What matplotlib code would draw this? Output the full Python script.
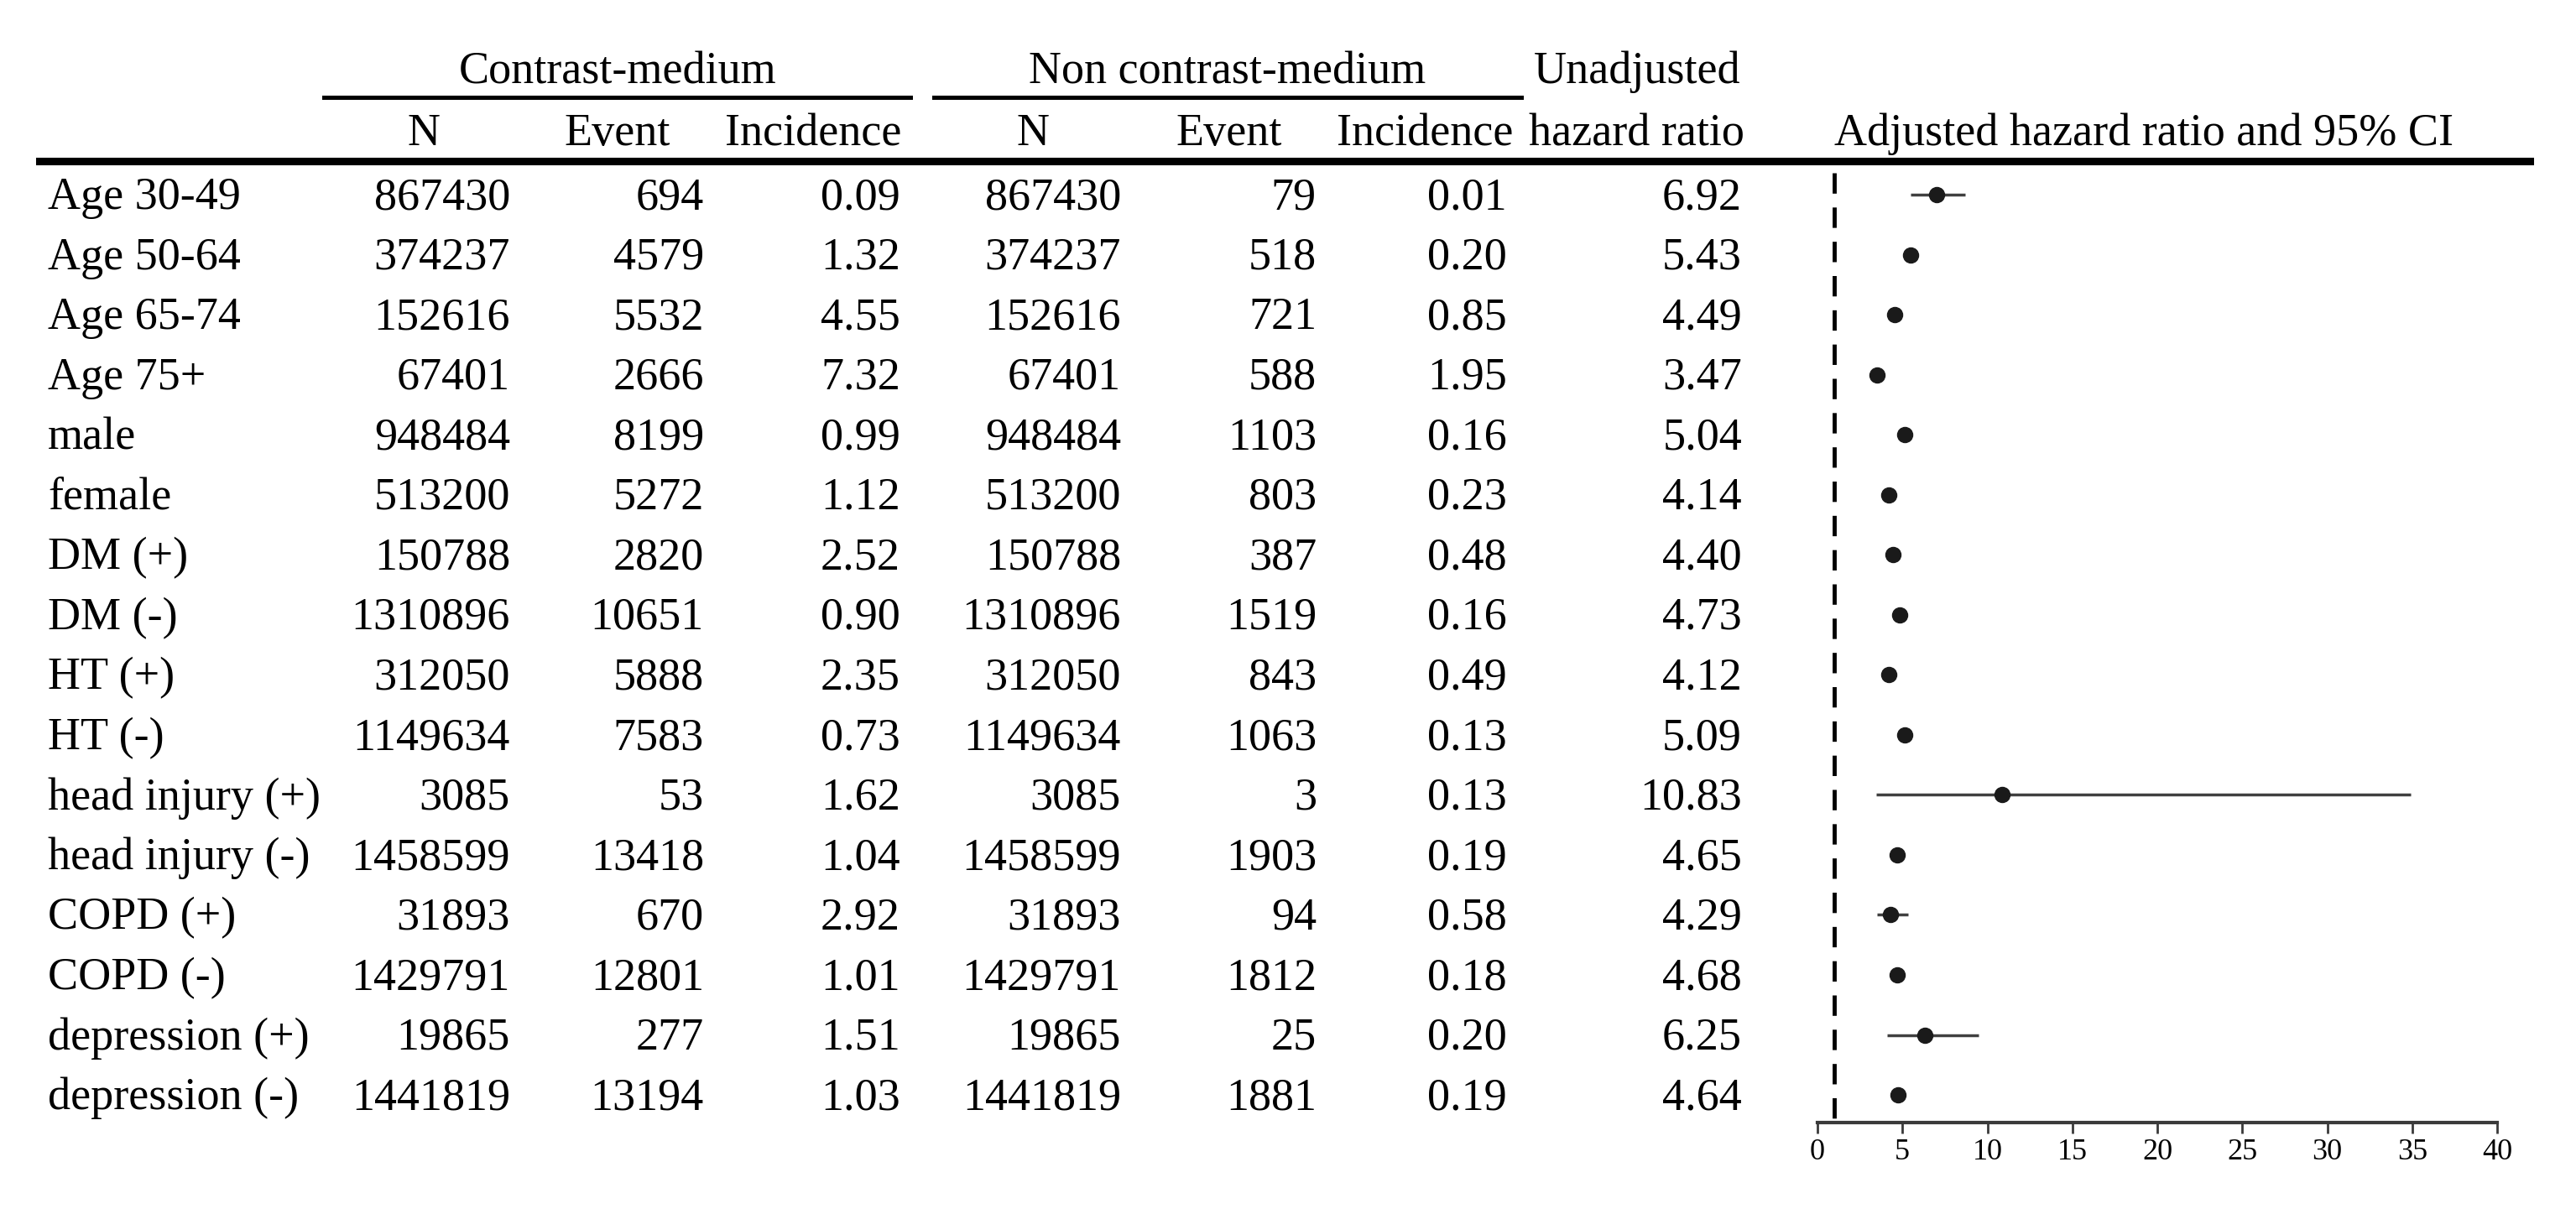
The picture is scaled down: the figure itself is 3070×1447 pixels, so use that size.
import matplotlib.pyplot as plt
from matplotlib.lines import Line2D
from matplotlib.transforms import blended_transform_factory
import numpy as np

plt.rcParams['font.family'] = ['Liberation Serif', 'DejaVu Serif']

# ---- data ----
labels = ["Age 30-49", "Age 50-64", "Age 65-74", "Age 75+", "male", "female",
          "DM (+)", "DM (-)", "HT (+)", "HT (-)", "head injury (+)", "head injury (-)",
          "COPD (+)", "COPD (-)", "depression (+)", "depression (-)"]
cm_n = [867430, 374237, 152616, 67401, 948484, 513200, 150788, 1310896,
        312050, 1149634, 3085, 1458599, 31893, 1429791, 19865, 1441819]
cm_event = [694, 4579, 5532, 2666, 8199, 5272, 2820, 10651,
            5888, 7583, 53, 13418, 670, 12801, 277, 13194]
cm_inc = [0.09, 1.32, 4.55, 7.32, 0.99, 1.12, 2.52, 0.90,
          2.35, 0.73, 1.62, 1.04, 2.92, 1.01, 1.51, 1.03]
ncm_n = [867430, 374237, 152616, 67401, 948484, 513200, 150788, 1310896,
         312050, 1149634, 3085, 1458599, 31893, 1429791, 19865, 1441819]
ncm_event = [79, 518, 721, 588, 1103, 803, 387, 1519,
             843, 1063, 3, 1903, 94, 1812, 25, 1881]
ncm_inc = [0.01, 0.20, 0.85, 1.95, 0.16, 0.23, 0.48, 0.16,
           0.49, 0.13, 0.13, 0.19, 0.58, 0.18, 0.20, 0.19]
unadj_hr = [6.92, 5.43, 4.49, 3.47, 5.04, 4.14, 4.40, 4.73,
            4.12, 5.09, 10.83, 4.65, 4.29, 4.68, 6.25, 4.64]

# adjusted HR and 95% CI
adj_hr = [7.0, 5.46, 4.53, 3.52, 5.14, 4.22, 4.43, 4.83,
          4.22, 5.14, 10.86, 4.68, 4.31, 4.68, 6.33, 4.74]
ci_lo = [5.5, 5.3, 4.4, 3.4, 5.0, 4.1, 4.3, 4.7,
         4.1, 5.0, 3.46, 4.55, 3.5, 4.55, 4.1, 4.6]
ci_hi = [8.7, 5.6, 4.7, 3.65, 5.3, 4.35, 4.6, 5.0,
         4.35, 5.3, 34.9, 4.8, 5.35, 4.8, 9.5, 4.9]
ref_line = 1
xticks = [0, 5, 10, 15, 20, 25, 30, 35, 40]

W, H = 3070, 1447
FS = 39

fig = plt.figure(figsize=(W / 100, H / 100), dpi=100)


def fx(x):
    return x / W


def fy(y):
    return 1 - y / H


# forest plot axes
ax = fig.add_axes([fx(2166), fy(1338), fx(2976 - 2166), (1338 - 190) / H])
rows = np.arange(len(labels))
ax.set_xlim(0, 40)
ax.set_ylim(15.46, -0.587)
for s in ['top', 'right', 'left']:
    ax.spines[s].set_visible(False)
ax.spines['bottom'].set_linewidth(3)
ax.spines['bottom'].set_color('#3a3a3a')
ax.set_yticks([])
ax.set_xticks(xticks)
ax.tick_params(axis='x', direction='out', length=9, width=2, color='#3a3a3a',
               labelsize=26, pad=5)

ax.plot([ref_line, ref_line], [-0.37, 15.46], color='black', lw=3.5,
        linestyle=(0, (5, 3.4)), clip_on=False)
ax.hlines(rows, ci_lo, ci_hi, color='#404040', lw=2.5)
ax.plot(adj_hr, rows, 'o', color='#1a1a1a', markersize=13)

# table text
tr = blended_transform_factory(fig.transFigure, ax.transData)
base = 0.24
cols = [
    (1336, cm_n, '{:d}'), (608, cm_n, '{:d}'),
]
for i in rows:
    ax.text(fx(57), i + base, labels[i], transform=tr, ha='left', va='baseline',
            fontsize=FS)
    ax.text(fx(608), i + base, f'{cm_n[i]}', transform=tr, ha='right', va='baseline', fontsize=FS)
    ax.text(fx(839), i + base, f'{cm_event[i]}', transform=tr, ha='right', va='baseline', fontsize=FS)
    ax.text(fx(1073), i + base, f'{cm_inc[i]:.2f}', transform=tr, ha='right', va='baseline', fontsize=FS)
    ax.text(fx(1336), i + base, f'{ncm_n[i]}', transform=tr, ha='right', va='baseline', fontsize=FS)
    ax.text(fx(1569), i + base, f'{ncm_event[i]}', transform=tr, ha='right', va='baseline', fontsize=FS)
    ax.text(fx(1796), i + base, f'{ncm_inc[i]:.2f}', transform=tr, ha='right', va='baseline', fontsize=FS)
    ax.text(fx(2076), i + base, f'{unadj_hr[i]:.2f}', transform=tr, ha='right', va='baseline', fontsize=FS)

# headers
hdr1 = [("Contrast-medium", 736), ("Non contrast-medium", 1463), ("Unadjusted", 1951)]
for t, x in hdr1:
    fig.text(fx(x), fy(99), t, ha='center', va='baseline', fontsize=FS)
hdr2 = [("N", 505), ("Event", 736), ("Incidence", 969), ("N", 1231), ("Event", 1465),
        ("Incidence", 1698), ("hazard ratio", 1950), ("Adjusted hazard ratio and 95% CI", 2555)]
for t, x in hdr2:
    fig.text(fx(x), fy(173), t, ha='center', va='baseline', fontsize=FS)

# rules
fig.add_artist(Line2D([fx(386), fx(1085)], [fy(116), fy(116)], color='black', lw=3.6))
fig.add_artist(Line2D([fx(1113), fx(1813)], [fy(116), fy(116)], color='black', lw=3.6))
fig.add_artist(Line2D([fx(47), fx(3015)], [fy(192), fy(192)], color='black', lw=6.5))

fig.savefig('out.png', dpi=100)
